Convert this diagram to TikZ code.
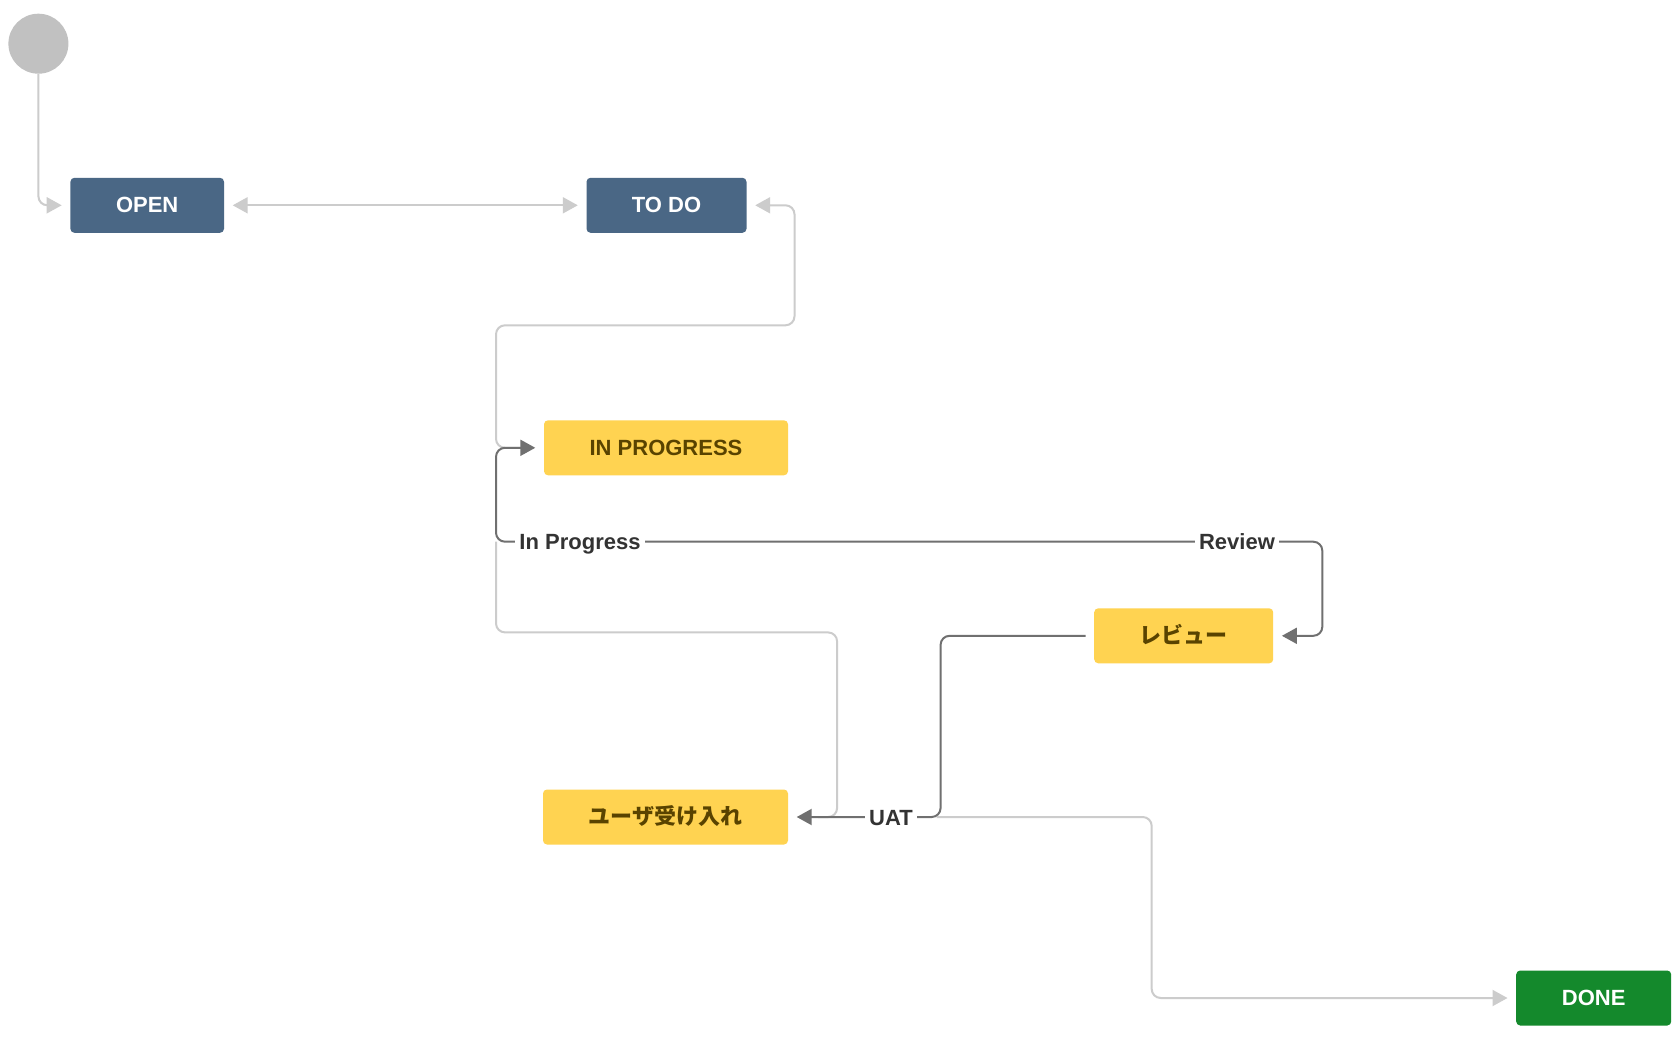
\documentclass[tikz,border=0pt]{standalone}
\usepackage{fontspec}
\setmainfont{Liberation Sans}
\newfontfamily\cjk{Noto Sans CJK JP}
\usetikzlibrary{arrows.meta,calc}
\definecolor{jblue}{HTML}{4A6785}
\definecolor{jyellow}{HTML}{FFD351}
\definecolor{jgreen}{HTML}{14892C}
\definecolor{jbrown}{HTML}{594300}
\definecolor{jcircle}{HTML}{C1C1C1}
\definecolor{lgray}{HTML}{CCCCCC}
\definecolor{dgray}{HTML}{707070}
\definecolor{lbltext}{HTML}{333333}
\begin{document}
\begin{tikzpicture}[x=1pt,y=-1pt,
  box/.style={rectangle, rounded corners=4pt, minimum height=55pt, inner sep=0pt,
    text height=15pt, text depth=0pt,
    font=\fontsize{22}{26}\selectfont\bfseries},
  bluebox/.style={box, fill=jblue, text=white},
  yellowbox/.style={box, fill=jyellow, text=jbrown},
  greenbox/.style={box, fill=jgreen, text=white},
  lite/.style={draw=lgray, line width=2pt, rounded corners=9pt},
  dark/.style={draw=dgray, line width=2pt, rounded corners=9pt},
  tipend/.style={-{Triangle[length=15pt,width=16pt]}},
  tipboth/.style={{Triangle[length=15pt,width=16pt]}-{Triangle[length=15pt,width=16pt]}},
  lbl/.style={fill=white, text=lbltext, inner sep=4pt, text height=16pt, text depth=0pt,
    font=\fontsize{22}{26}\selectfont\bfseries}
]
\useasboundingbox (0,0) rectangle (1672,1038);
\fill[white] (0,0) rectangle (1672,1038);

% nodes
\node[circle, fill=jcircle, minimum size=60pt, inner sep=0pt] (start) at (38.4,43.7) {};
\node[bluebox, minimum width=153.6pt] (open) at (147.2,205.3) {OPEN};
\node[bluebox, minimum width=160pt] (todo) at (666.5,205.3) {TO DO};
\node[yellowbox, minimum width=244pt] (inprog) at (666,447.8) {IN PROGRESS};
\node[yellowbox, minimum width=179pt] (review) at (1183.7,635.8) {\cjk\bfseries レビュー};
\node[yellowbox, minimum width=245pt] (uat) at (665.5,817) {\cjk\bfseries ユーザ受け入れ};
\node[greenbox, minimum width=155pt] (done) at (1593.7,998) {DONE};

% column / row reference coordinates
\coordinate (colL) at (496,0);
\coordinate (colTD) at (794.5,0);
\coordinate (colU) at (837.1,0);
\coordinate (colR) at (1322.3,0);
\coordinate (colV) at (940.6,0);
\coordinate (colD) at (1151.7,0);
\coordinate (rowA) at (0,325.3);
\coordinate (rowB) at (0,541.7);
\coordinate (rowC) at (0,632.4);

% light connectors
\draw[lite, tipend] (start.south) |- ($(open.west)+(-8.5,0)$);
\draw[lite, tipboth] ($(open.east)+(8.5,0)$) -- ($(todo.west)+(-8.5,0)$);
\draw[lite, tipend] ($(inprog.west)+(-22,0)$) -| (colL |- rowA) -| (colTD |- todo.east) -- ($(todo.east)+(8.5,0)$);
\draw[lite] (colL |- rowB) -- (colL |- rowC) -| (colU |- uat.east) -- ($(uat.east)+(30,0)$);
\draw[lite, tipend] ($(colV |- uat.east)+(-4,0)$) -| (colD |- done.west) -- ($(done.west)+(-8.5,0)$);

% dark connectors
\draw[dark, tipboth] ($(inprog.west)+(-8.5,0)$) -| (colL |- rowB) -| (colR |- review.east) -- ($(review.east)+(8.5,0)$);
\draw[dark, tipend] ($(review.west)+(-8.5,0)$) -| (colV |- uat.east) -- ($(uat.east)+(8.5,0)$);

% labels
\node[lbl] (lblIP) at (580,541.7) {In Progress};
\node[lbl] (lblRev) at (1237,541.7) {Review};
\node[lbl] (lblUAT) at (891,817) {UAT};
\end{tikzpicture}
\end{document}
